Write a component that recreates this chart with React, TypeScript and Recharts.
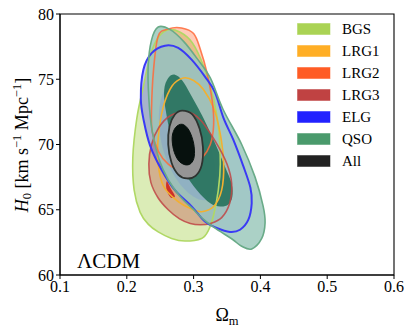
import React from 'react';
import { ScatterChart, Scatter, XAxis, YAxis, ReferenceArea } from 'recharts';

type Pt = [number, number];

// axis ticks
const xTicks = [0.1, 0.2, 0.3, 0.4, 0.5, 0.6];
const yTicks = [60, 65, 70, 75, 80];

// contour outlines: [Omega_m, H0]
const bgsOuter: Pt[] = [
  [0.209, 69.0], [0.211, 66.5], [0.22, 64.8], [0.232, 63.9], [0.247, 63.3], [0.267, 62.8],
  [0.287, 62.6], [0.312, 62.8], [0.322, 63.4], [0.33, 64.6], [0.337, 66.5], [0.34, 68.5],
  [0.338, 71.0], [0.33, 73.5], [0.315, 76.0], [0.298, 77.8], [0.28, 78.6], [0.262, 78.8],
  [0.247, 78.2], [0.235, 76.8], [0.225, 74.5], [0.215, 72.0],
];
const lrg1Outer: Pt[] = [
  [0.2846, 75.1], [0.3, 74.9], [0.315, 74.2], [0.33, 72.8], [0.34, 70.8], [0.345, 68.5],
  [0.342, 66.5], [0.33, 65.25], [0.312, 64.85], [0.297, 65.05], [0.275, 65.7], [0.255, 66.8],
  [0.247, 68.5], [0.247, 70.5], [0.2547, 72.9], [0.268, 74.5],
];
const lrg2Outer: Pt[] = [
  [0.262, 78.85], [0.282, 78.93], [0.3, 78.5], [0.31, 77.3], [0.32, 75.5], [0.328, 73.3],
  [0.33, 71.5], [0.325, 70.0], [0.312, 68.9], [0.295, 68.2], [0.278, 68.1], [0.262, 68.5],
  [0.247, 69.5], [0.238, 71.0], [0.237, 72.7], [0.24, 75.7], [0.247, 78.3],
];
const lrg3Outer: Pt[] = [
  [0.29, 72.5], [0.31, 71.9], [0.333, 70.2], [0.35, 68.5], [0.357, 67.0], [0.354, 65.5],
  [0.342, 64.4], [0.325, 63.95], [0.31, 63.85], [0.295, 63.95], [0.279, 64.3], [0.262, 65.0],
  [0.247, 65.9], [0.236, 67.1], [0.233, 68.5], [0.237, 70.0], [0.248, 71.3], [0.265, 72.2],
];
const lrg3Inner: Pt[] = [
  [0.26, 67.18], [0.266, 66.6], [0.272, 66.03], [0.267, 65.9], [0.262, 66.2], [0.259, 66.7],
];
const elgOuter: Pt[] = [
  [0.2572, 77.57], [0.277, 77.4], [0.297, 76.5], [0.317, 75.2], [0.332, 74.0], [0.345, 72.0],
  [0.3594, 70.37], [0.374, 68.4], [0.385, 66.7], [0.387, 65.5], [0.382, 64.24], [0.3695, 63.47],
  [0.3545, 63.3], [0.3346, 63.6], [0.317, 64.1], [0.297, 65.26], [0.272, 66.5], [0.252, 68.07],
  [0.235, 69.9], [0.2255, 71.8], [0.221, 73.5], [0.2248, 75.73], [0.2372, 77.0],
];
const elgInner: Pt[] = [
  [0.275, 74.5], [0.295, 73.5], [0.315, 71.5], [0.33, 69.0], [0.333, 67.0], [0.322, 65.8],
  [0.3, 66.0], [0.275, 67.3], [0.255, 69.5], [0.248, 72.0], [0.255, 74.0],
];
const qsoOuter: Pt[] = [
  [0.247, 79.0], [0.265, 78.8], [0.285, 77.9], [0.305, 76.6], [0.325, 75.1], [0.344, 72.7],
  [0.372, 70.0], [0.392, 67.5], [0.404, 65.3], [0.407, 64.0], [0.402, 62.8], [0.387, 62.0],
  [0.372, 62.2], [0.359, 62.7], [0.341, 63.3], [0.329, 63.7], [0.314, 64.3], [0.298, 65.1],
  [0.28, 66.0], [0.262, 67.3], [0.248, 68.9], [0.238, 71.0], [0.233, 73.5], [0.232, 76.0],
  [0.237, 78.0],
];
const qsoInner: Pt[] = [
  [0.272, 75.35], [0.283, 74.9], [0.296, 73.8], [0.315, 72.0], [0.333, 70.0], [0.347, 68.3],
  [0.357, 67.0], [0.358, 66.0], [0.352, 65.4], [0.34, 65.25], [0.325, 65.5], [0.305, 66.5],
  [0.285, 68.0], [0.268, 70.3], [0.258, 72.7], [0.256, 74.2], [0.262, 75.1],
];
const allOuter: Pt[] = [
  [0.283, 72.6], [0.298, 72.3], [0.309, 71.2], [0.314, 69.8], [0.312, 68.4], [0.303, 67.6],
  [0.29, 67.4], [0.277, 67.7], [0.267, 68.6], [0.262, 70.0], [0.264, 71.4], [0.272, 72.3],
];
const allInner: Pt[] = [
  [0.283, 71.55], [0.293, 71.1], [0.3, 70.1], [0.301, 69.1], [0.296, 68.55], [0.287, 68.45],
  [0.277, 68.8], [0.27, 69.6], [0.268, 70.6], [0.273, 71.3],
];

const legendNames = ['BGS', 'LRG1', 'LRG2', 'LRG3', 'ELG', 'QSO', 'All'];
const legendColors = ['#aad354', '#ffae25', '#ff5c25', '#c04242', '#2222ff', '#4a9a6c', '#222222'];

const FONT = 'Liberation Serif, DejaVu Serif, serif';

type Layer = {
  key: string;
  pts: Pt[];
  fill: string;
  fillOpacity: number;
  stroke: string;
  strokeWidth: number;
  strokeOpacity?: number;
};

// fills first, outlines on top, the combined contour last
const layers: Layer[] = [
  { key: 'bgs-f', pts: bgsOuter, fill: '#a6cf4c', fillOpacity: 0.4, stroke: 'none', strokeWidth: 0 },
  { key: 'lrg1-f', pts: lrg1Outer, fill: '#ffb030', fillOpacity: 0.15, stroke: 'none', strokeWidth: 0 },
  { key: 'lrg2-f', pts: lrg2Outer, fill: '#ff6a35', fillOpacity: 0.35, stroke: 'none', strokeWidth: 0 },
  { key: 'lrg3-f', pts: lrg3Outer, fill: '#c44444', fillOpacity: 0.35, stroke: 'none', strokeWidth: 0 },
  { key: 'elg-f', pts: elgOuter, fill: '#3030ff', fillOpacity: 0.3, stroke: 'none', strokeWidth: 0 },
  { key: 'qso-f', pts: qsoOuter, fill: '#9cc9bc', fillOpacity: 0.85, stroke: 'none', strokeWidth: 0 },
  { key: 'lrg3-i', pts: lrg3Inner, fill: '#cc1a1a', fillOpacity: 0.85, stroke: 'none', strokeWidth: 0 },
  { key: 'elg-i', pts: elgInner, fill: '#4a5cff', fillOpacity: 0.14, stroke: 'none', strokeWidth: 0 },
  { key: 'qso-i', pts: qsoInner, fill: '#2b7560', fillOpacity: 0.95, stroke: 'none', strokeWidth: 0 },
  { key: 'bgs-s', pts: bgsOuter, fill: 'none', fillOpacity: 0, stroke: '#b0d865', strokeWidth: 1.6 },
  { key: 'lrg1-s', pts: lrg1Outer, fill: 'none', fillOpacity: 0, stroke: '#f2b030', strokeWidth: 1.6 },
  { key: 'lrg2-s', pts: lrg2Outer, fill: 'none', fillOpacity: 0, stroke: '#ff6a3a', strokeWidth: 1.6, strokeOpacity: 0.85 },
  { key: 'lrg3-s', pts: lrg3Outer, fill: 'none', fillOpacity: 0, stroke: '#bf4545', strokeWidth: 1.6, strokeOpacity: 0.85 },
  { key: 'elg-s', pts: elgOuter, fill: 'none', fillOpacity: 0, stroke: '#3a3af5', strokeWidth: 2 },
  { key: 'qso-s', pts: qsoOuter, fill: 'none', fillOpacity: 0, stroke: '#69ab88', strokeWidth: 1.6 },
  { key: 'all-f', pts: allOuter, fill: '#959595', fillOpacity: 1, stroke: '#2d3330', strokeWidth: 1.8 },
  { key: 'all-i', pts: allInner, fill: '#07110e', fillOpacity: 1, stroke: '#07110e', strokeWidth: 1 },
];

// smooth closed curve through the pixel points the scatter computed
function closedPath(p: { x: number; y: number }[]) {
  const n = p.length;
  if (!n) return '';
  let d = `M${p[0].x},${p[0].y}`;
  for (let i = 0; i < n; i++) {
    const p0 = p[(i - 1 + n) % n];
    const p1 = p[i];
    const p2 = p[(i + 1) % n];
    const p3 = p[(i + 2) % n];
    const c1x = p1.x + (p2.x - p0.x) / 6;
    const c1y = p1.y + (p2.y - p0.y) / 6;
    const c2x = p2.x - (p3.x - p1.x) / 6;
    const c2y = p2.y - (p3.y - p1.y) / 6;
    d += ` C${c1x},${c1y} ${c2x},${c2y} ${p2.x},${p2.y}`;
  }
  return d + ' Z';
}

const toRows = (pts: Pt[]) => pts.map(([x, y]) => ({ x, y }));

const tickStyle = { fill: '#000', fontSize: 16, fontFamily: FONT };

export default function App() {
  return (
    <div
      style={{
        position: 'absolute',
        left: 0,
        top: 0,
        width: 413,
        height: 336,
        background: '#fff',
        fontFamily: FONT,
      }}
    >
      <ScatterChart
        width={413}
        height={336}
        margin={{ top: 14, right: 19, bottom: 31, left: 10 }}
        style={{ fontFamily: FONT }}
      >
        <XAxis
          type="number"
          dataKey="x"
          domain={[0.1, 0.6]}
          ticks={xTicks}
          tickFormatter={(v: number) => v.toFixed(1)}
          height={30}
          tickSize={4}
          stroke="#000"
          tick={tickStyle}
          allowDataOverflow
        />
        <YAxis
          type="number"
          dataKey="y"
          domain={[60, 80]}
          ticks={yTicks}
          width={50}
          tickSize={4}
          stroke="#000"
          tick={tickStyle}
          allowDataOverflow
        />
        {layers.map((l) => (
          <Scatter
            key={l.key}
            data={toRows(l.pts)}
            isAnimationActive={false}
            shape={() => null}
            line={(props: any) => (
              <path
                d={closedPath(props.points)}
                fill={l.fill}
                fillOpacity={l.fillOpacity}
                stroke={l.stroke}
                strokeWidth={l.strokeWidth}
                strokeOpacity={l.strokeOpacity ?? 1}
                strokeLinejoin="round"
              />
            )}
          />
        ))}
        <ReferenceArea x1={0.1} x2={0.6} y1={60} y2={80} fill="none" stroke="#000" strokeWidth={1.1} />
      </ScatterChart>

      <svg
        width={413}
        height={336}
        style={{ position: 'absolute', left: 0, top: 0, pointerEvents: 'none', fontFamily: FONT }}
      >
        <g fill="#000">
          <text transform="translate(28,145) rotate(-90)" textAnchor="middle" fontSize={18}>
            <tspan fontStyle="italic">H</tspan>
            <tspan fontSize={12.5} dy={3}>0</tspan>
            <tspan dy={-3}> [km s</tspan>
            <tspan fontSize={12.5} dy={-7}>−1</tspan>
            <tspan dy={7}> Mpc</tspan>
            <tspan fontSize={12.5} dy={-7}>−1</tspan>
            <tspan dy={7}>]</tspan>
          </text>
          <text x={227} y={321} textAnchor="middle" fontSize={18}>
            Ω<tspan fontSize={12.5} dy={4}>m</tspan>
          </text>
          <text x={77} y={268} fontSize={21}>ΛCDM</text>
        </g>
        <g>
          {legendNames.map((name, i) => (
            <g key={name}>
              <rect
                x={297.5}
                y={23.5 + i * 22}
                width={32.5}
                height={11}
                fill={legendColors[i]}
                stroke={legendColors[i]}
                strokeOpacity={0.5}
                strokeWidth={1}
              />
              <text x={342} y={34 + i * 22} fontSize={15} fill="#000">
                {name}
              </text>
            </g>
          ))}
        </g>
      </svg>
    </div>
  );
}
